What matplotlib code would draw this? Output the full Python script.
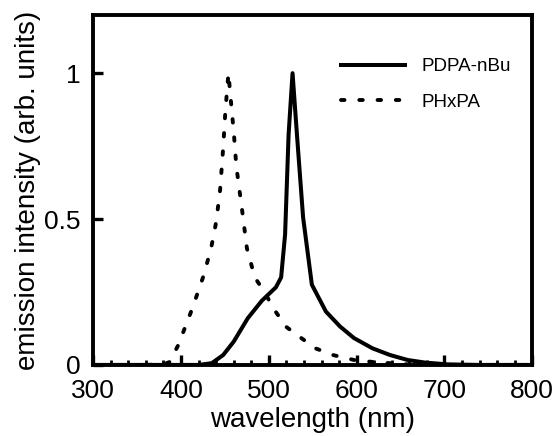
import matplotlib
matplotlib.use("Agg")
import matplotlib.pyplot as plt
from matplotlib.ticker import MultipleLocator

plt.rcParams['font.family'] = ['Liberation Sans', 'DejaVu Sans']

# PDPA-nBu (solid)
wl_pdpa = [300, 380, 420, 435, 448, 460, 476, 492, 508, 514, 518.5, 522.5, 527, 532, 539, 549, 565, 581, 597, 618, 638, 658, 678, 703, 740, 800]
em_pdpa = [0.0, 0.0, 0.0, 0.006, 0.034, 0.08, 0.16, 0.22, 0.266, 0.30, 0.447, 0.79, 1.0, 0.79, 0.506, 0.275, 0.183, 0.132, 0.092, 0.057, 0.034, 0.017, 0.008, 0.002, 0.0, 0.0]

# PHxPA (dotted)
wl_phx = [300, 360, 380, 387, 397, 413, 425, 434, 440, 444.5, 448, 450.5, 454, 456, 460, 463, 470, 475, 484, 495, 506, 520, 537, 553, 573, 597, 622, 658, 700, 800]
em_phx = [0.0, 0.0, 0.002, 0.01, 0.069, 0.195, 0.30, 0.396, 0.49, 0.60, 0.745, 0.87, 1.0, 0.93, 0.80, 0.68, 0.52, 0.40, 0.30, 0.25, 0.19, 0.13, 0.092, 0.057, 0.034, 0.017, 0.009, 0.002, 0.0, 0.0]

labels = ["PDPA-nBu", "PHxPA"]
xticks = [300, 400, 500, 600, 700, 800]
yticks = [0, 0.5, 1]
yticklabels = ["0", "0.5", "1"]

fig = plt.figure(figsize=(5.55, 4.36), dpi=100)
ax = fig.add_axes([0.168, 0.163, 0.791, 0.803])

ax.plot(wl_pdpa, em_pdpa, color='black', lw=2.9, solid_joinstyle='round', label=labels[0])
ax.plot(wl_phx, em_phx, color='black', lw=2.8, linestyle=(0, (0.9, 3.8)),
        dash_capstyle='round', label=labels[1])

ax.set_xlim(300, 800)
ax.set_ylim(0, 1.2)
ax.set_xticks(xticks)
ax.set_xticklabels([str(t) for t in xticks])
ax.set_yticks(yticks)
ax.set_yticklabels(yticklabels)
ax.xaxis.set_minor_locator(MultipleLocator(20))

ax.tick_params(axis='both', which='major', direction='in', length=7, width=2.4,
               labelsize=19, top=False, right=False)
ax.tick_params(axis='x', which='major', pad=10)
ax.tick_params(axis='y', which='major', pad=9)
ax.tick_params(axis='x', which='minor', direction='in', length=3.5, width=2.0, top=False)

for s in ax.spines.values():
    s.set_linewidth(2.8)

ax.set_xlabel("wavelength (nm)", fontsize=20, labelpad=3)
ax.set_ylabel("emission intensity (arb. units)", fontsize=20, labelpad=2)

ax.legend(loc='upper right', bbox_to_anchor=(0.99, 0.925), frameon=False, fontsize=13.5,
          handlelength=3.4, handletextpad=0.9, labelspacing=1.0)

fig.savefig("out.png", dpi=100)
